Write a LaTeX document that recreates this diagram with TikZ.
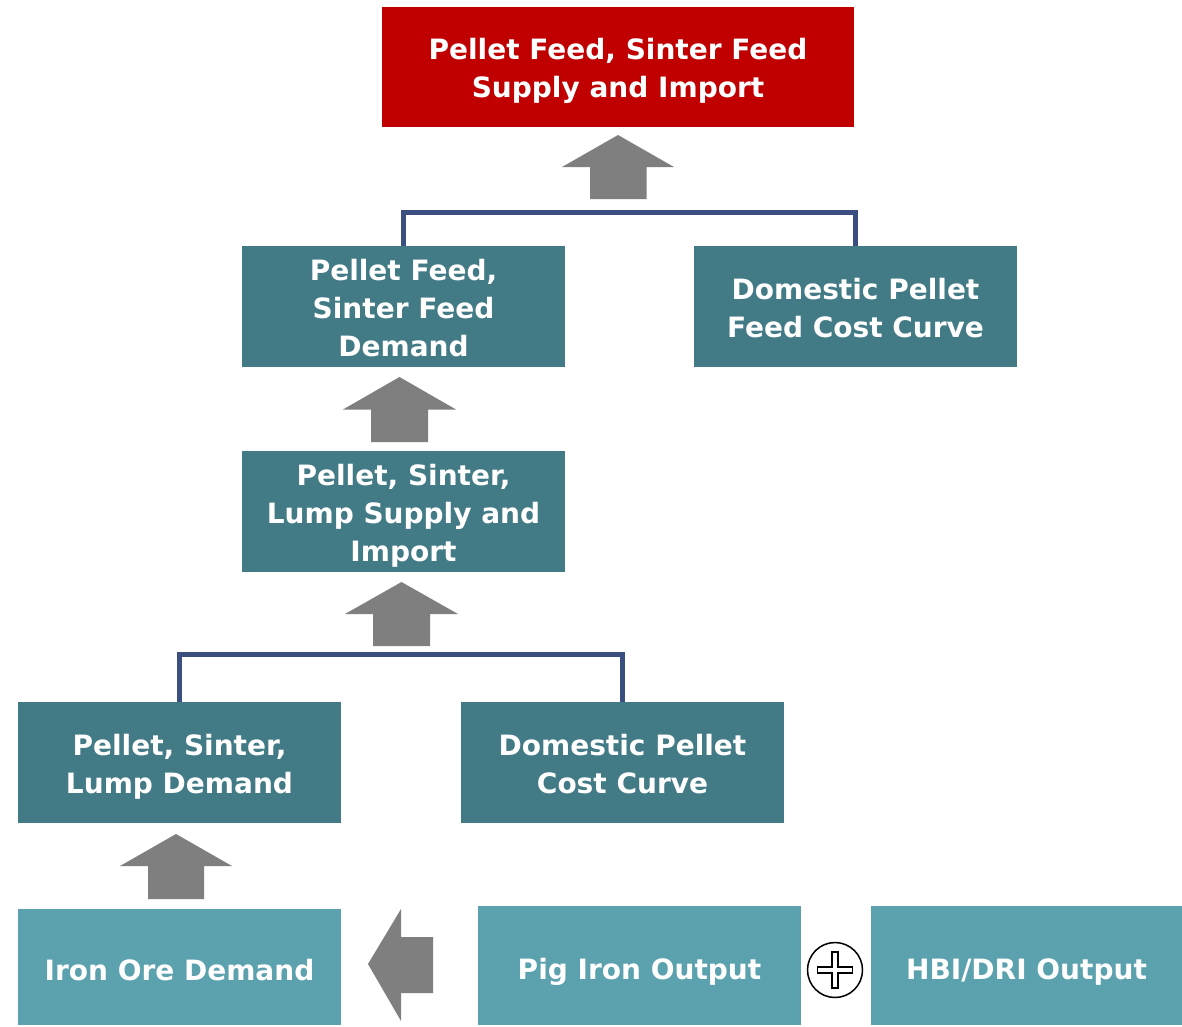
\documentclass[tikz,border=0pt]{standalone}
\usepackage{fontspec}
\setmainfont{DejaVu Sans}
\usetikzlibrary{calc}
\newcommand{\topst}{\rule{0pt}{31pt}}
\newcommand{\botst}{\rule[-8pt]{0pt}{8pt}}
\newcommand{\onest}{\rule[-8pt]{0pt}{43pt}}
\begin{document}
\begin{tikzpicture}[x=1pt,y=-1pt,
  box/.style={rectangle, inner sep=0pt, text=white, align=center,
    font=\fontsize{28}{38}\selectfont\bfseries},
  darkbox/.style={box, fill=tealdark, minimum width=323pt, minimum height=121pt},
  lightbox/.style={box, fill=teallight, minimum height=119pt},
  redbox/.style={box, fill=topred, minimum width=472pt, minimum height=120pt},
  bracket/.style={draw=linkblue, line width=5pt},
  blockarrow/.style={fill=arrowgray, draw=none}
]
\definecolor{tealdark}{RGB}{66,123,133}
\definecolor{teallight}{RGB}{91,162,174}
\definecolor{topred}{RGB}{192,0,0}
\definecolor{linkblue}{RGB}{59,78,128}
\definecolor{arrowgray}{RGB}{127,127,127}
\useasboundingbox (0,0) rectangle (1182,1026);
\fill[white] (0,0) rectangle (1182,1026);

% nodes
\node[redbox] (top) at (618,67) {\topst Pellet Feed, Sinter Feed\\Supply and Import\botst};
\node[darkbox] (pfd) at (403.5,306.5) {\topst Pellet Feed,\\Sinter Feed\\Demand\botst};
\node[darkbox] (dpfc) at (855.5,306.5) {\topst Domestic Pellet\\Feed Cost Curve\botst};
\node[darkbox] (pslsi) at (403.5,511.5) {\topst Pellet, Sinter,\\Lump Supply and\\Import\botst};
\node[darkbox] (psld) at (179.5,762.5) {\topst Pellet, Sinter,\\Lump Demand\botst};
\node[darkbox] (dpcc) at (622.5,762.5) {\topst Domestic Pellet\\Cost Curve\botst};
\node[lightbox, minimum width=323pt, minimum height=116pt] (iod) at (179.5,967) {\onest Iron Ore Demand};
\node[lightbox, minimum width=323pt] (pio) at (639.5,965.5) {\onest Pig Iron Output};
\node[lightbox, minimum width=311pt] (hbi) at (1026.5,965.5) {\onest HBI/DRI Output};
\node[circle, draw=black, line width=1.5pt, fill=white, minimum size=55pt, inner sep=0pt] (plus) at (835,970) {};

% plus sign
\draw[black, line width=1.2pt, fill=white]
  ($(plus.center)+(-17.5,-3)$) -- ++(14.5,0) -- ++(0,-15) -- ++(6,0) -- ++(0,15) -- ++(14.5,0)
  -- ++(0,6) -- ++(-14.5,0) -- ++(0,15) -- ++(-6,0) -- ++(0,-15) -- ++(-14.5,0) -- cycle;

% brackets
\draw[bracket] (pfd.north) -- ++(0,-33) -| (dpfc.north);
\draw[bracket] (psld.north) -- ++(0,-47) -| (dpcc.north);

% block arrows (up)
\fill[blockarrow] (618,135) -- (674,167) -- (646.5,167) -- (646.5,199) -- (590,199) -- (590,167) -- (562,167) -- cycle;
\fill[blockarrow] (399.5,377) -- (456,409.5) -- (428,409.5) -- (428,442) -- (371,442) -- (371,409.5) -- (343,409.5) -- cycle;
\fill[blockarrow] (401.5,582) -- (458,614) -- (430,614) -- (430,646) -- (373,646) -- (373,614) -- (345,614) -- cycle;
\fill[blockarrow] (176,834) -- (232,866) -- (204,866) -- (204,899) -- (148,899) -- (148,866) -- (120,866) -- cycle;
% block arrow (left)
\fill[blockarrow] (368,964) -- (401,909) -- (401,937) -- (433,937) -- (433,993) -- (401,993) -- (401,1021) -- cycle;
\end{tikzpicture}
\end{document}
